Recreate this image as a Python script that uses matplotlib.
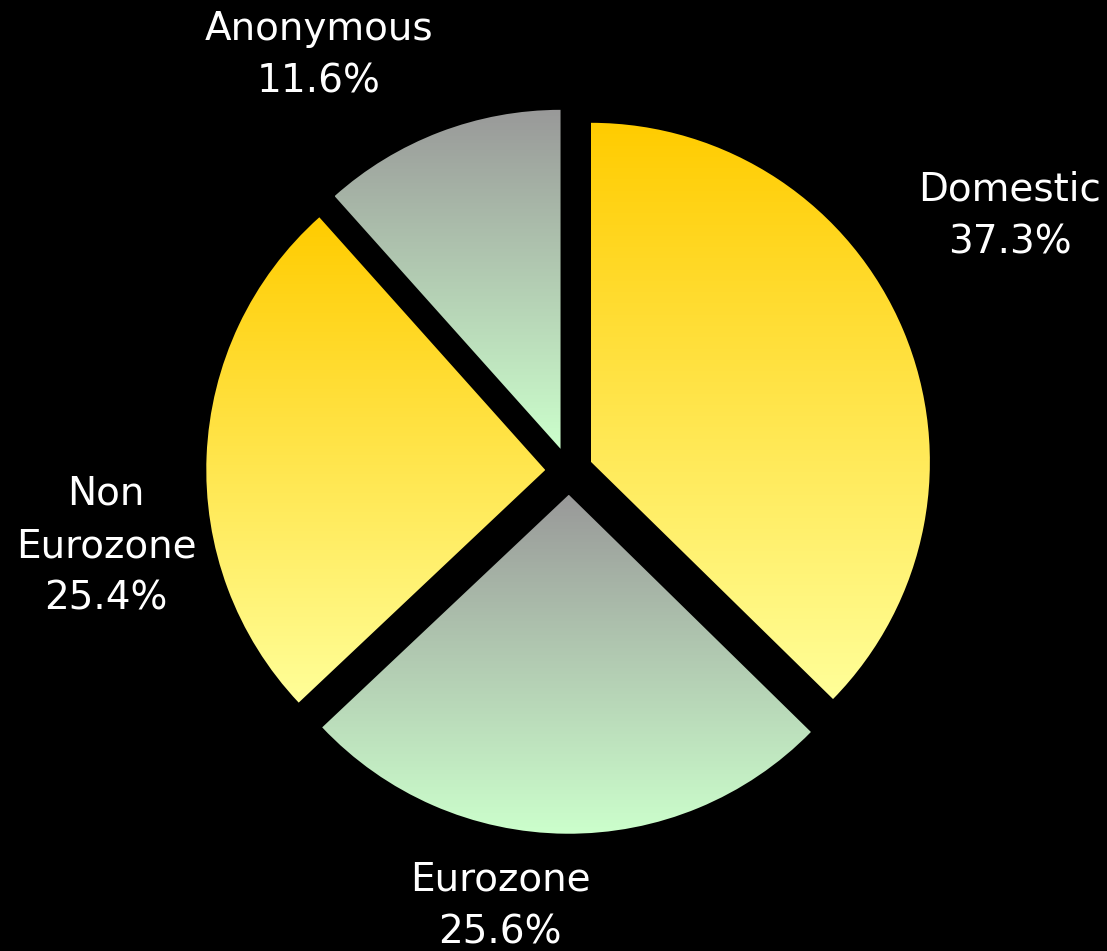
import numpy as np
import matplotlib
matplotlib.use("Agg")
import matplotlib.pyplot as plt
from matplotlib.colors import LinearSegmentedColormap

# data
labels = ["Domestic", "Eurozone", "Non\nEurozone", "Anonymous"]
shares = [37.3, 25.6, 25.4, 11.6]

# gradient for each wedge: (top colour, bottom colour)
gradients = [("#FFCC00", "#FFFF99"), ("#999999", "#CCFFCC"),
             ("#FFCC00", "#FFFF99"), ("#999999", "#CCFFCC")]

W, H = 1107, 951
fig = plt.figure(figsize=(W / 100, H / 100), dpi=100, facecolor="black")
ax = fig.add_axes([0, 0, 1, 1])
ax.set_facecolor("black")

# pie centre and radius in pixels
cx, cy, rpx = 569, 471, 339

wedges, _ = ax.pie(shares, explode=[0.07] * 4, startangle=90, counterclock=False,
                   radius=1, wedgeprops=dict(linewidth=0, edgecolor="none"))

for w, (top, bottom) in zip(wedges, gradients):
    w.set_facecolor("none")
    bb = w.get_path().get_extents()
    cmap = LinearSegmentedColormap.from_list("g", [top, bottom])
    grad = np.linspace(0, 1, 256).reshape(-1, 1)
    im = ax.imshow(grad, cmap=cmap, aspect="auto",
                   extent=[bb.x0, bb.x1, bb.y0, bb.y1], origin="upper",
                   interpolation="bilinear", zorder=1)
    im.set_clip_path(w)

ax.set_xlim(-cx / rpx, (W - cx) / rpx)
ax.set_ylim(-(H - cy) / rpx, cy / rpx)
ax.set_aspect("equal", adjustable="box")
ax.axis("off")

# label block centres in pixels
label_pos = [(1010, 216), (500, 906), (106, 546), (319, 55)]
for lab, val, (px, py) in zip(labels, shares, label_pos):
    fig.text(px / W, 1 - py / H, f"{lab}\n{val:.1f}%", color="white",
             fontsize=28, ha="center", va="center", linespacing=1.47,
             family="DejaVu Sans")

fig.savefig("out.png", dpi=100, facecolor="black")
